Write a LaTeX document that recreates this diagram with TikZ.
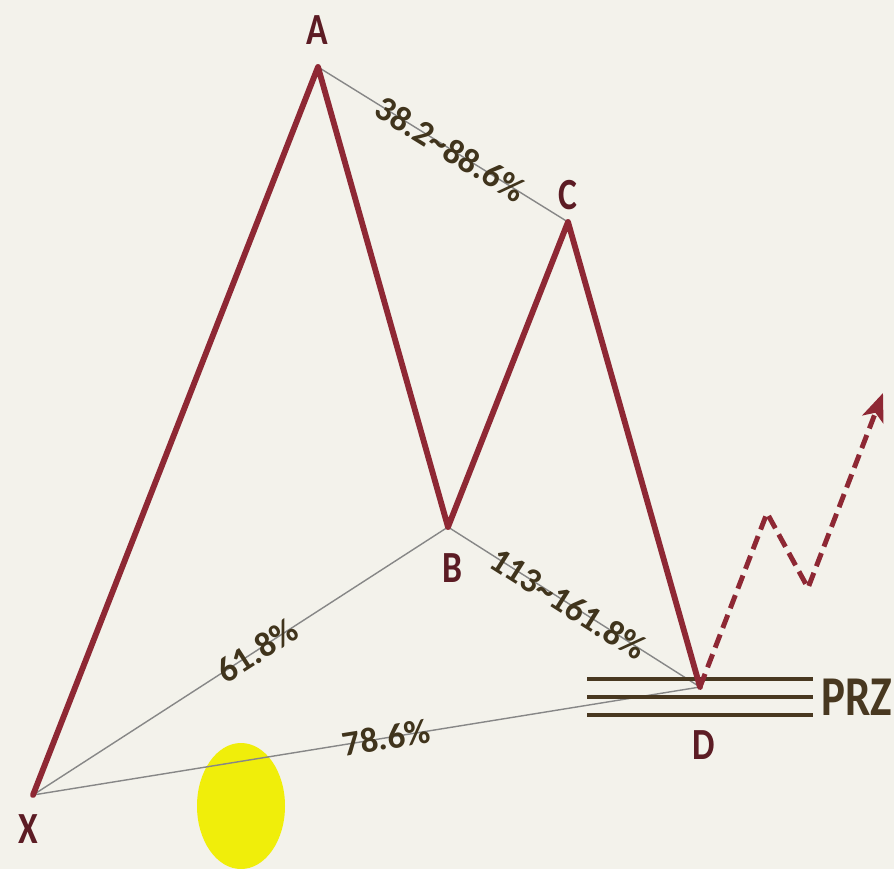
\documentclass[tikz,border=0pt]{standalone}
\usepackage{fontspec}
\setmainfont{Carlito}
\newfontfamily\ptfont[FakeStretch=0.8]{Carlito}
\usetikzlibrary{arrows.meta}
\definecolor{bgcol}{RGB}{243,242,235}
\definecolor{legcol}{RGB}{142,40,52}
\definecolor{ptcol}{RGB}{92,28,36}
\definecolor{ratiocol}{RGB}{64,52,28}
\definecolor{fibcol}{RGB}{135,135,135}
\definecolor{przcol}{RGB}{72,56,32}
\definecolor{markcol}{RGB}{240,238,10}

\begin{document}
\begin{tikzpicture}[x=0.03cm, y=-0.03cm, line cap=round, line join=round,
  leg/.style={legcol, line width=5pt},
  fib/.style={fibcol, line width=1.2pt},
  przline/.style={przcol, line width=3.2pt, line cap=butt},
  ratio/.style={font=\bfseries\fontsize{30}{30}\selectfont, text=ratiocol,
    sloped, inner sep=0pt},
  pt/.style={font=\ptfont\bfseries\fontsize{38}{38}\selectfont, text=ptcol,
    inner sep=0pt}]

% ------------------------------------------------------------------
% Canvas
% ------------------------------------------------------------------
\useasboundingbox (0,0) rectangle (894,869);
\fill[bgcol] (0,0) rectangle (894,869);

% ------------------------------------------------------------------
% Swing points of the pattern
% ------------------------------------------------------------------
\coordinate (X) at (33,795);
\coordinate (A) at (318,67);
\coordinate (B) at (448,527);
\coordinate (C) at (568,222);
\coordinate (D) at (700,687);
\coordinate (E1) at (767,513);   % projected swing up
\coordinate (E2) at (808,588);   % projected pullback
\coordinate (E3) at (883,393);   % projected target

% yellow marker (drawn first so the ratio line runs over it)
\fill[markcol] (241,806) ellipse [x radius=44, y radius=63];

% ------------------------------------------------------------------
% Fibonacci ratio lines with their labels
% ------------------------------------------------------------------
\draw[fib] (A) -- node[ratio, pos=0.53] (rAC) {38.2\textasciitilde88.6\%} (C);
\draw[fib] (B) -- node[ratio, pos=0.48] (rBD) {113\textasciitilde161.8\%} (D);
\draw[fib] (X) -- node[ratio, pos=0.54] (rXB) {61.8\%} (B);
\draw[fib] (X) -- node[ratio, pos=0.53] (rXD) {78.6\%} (D);

% ------------------------------------------------------------------
% Potential reversal zone
% ------------------------------------------------------------------
\foreach \y in {679,697,715}{ \draw[przline] (587,\y) -- (813,\y); }

% ------------------------------------------------------------------
% Pattern legs, then the dashed projection after D
% ------------------------------------------------------------------
\draw[leg] (X) -- (A) -- (B) -- (C) -- (D);
\draw[leg, line width=4.2pt, line cap=butt, dash pattern=on 12pt off 6pt,
  -{Stealth[length=24pt, width=19pt, inset=6pt]}] (D) -- (E1) -- (E2) -- (E3);

% ------------------------------------------------------------------
% Point labels
% ------------------------------------------------------------------
\node[pt] (lA) at (317,30) {A};
\node[pt] (lB) at (452,568) {B};
\node[pt] (lC) at (568,195) {C};
\node[pt] (lD) at (704,745) {D};
\node[pt] (lX) at (28,829) {X};
\node[pt, font=\ptfont\bfseries\fontsize{48}{48}\selectfont, text=przcol]
  (lPRZ) at (857,697) {PRZ};

\end{tikzpicture}
\end{document}
